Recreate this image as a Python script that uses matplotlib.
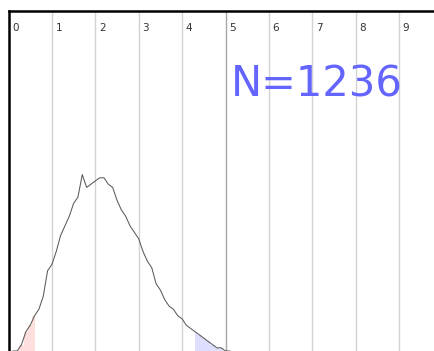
import numpy as np
import matplotlib
matplotlib.use("Agg")
import matplotlib.pyplot as plt

# binned counts, bin width 0.1
BIN_CENTERS = np.round(np.arange(0.1, 5.11, 0.1), 1)
COUNTS = [0, 0, 2, 6, 8, 11, 13, 17, 25, 27,
          31, 36, 39, 42, 46, 48, 55, 51, 52, 53,
          54, 54, 52, 51, 47, 44, 42, 39, 37, 35,
          31, 28, 26, 21, 19, 16, 14, 13, 11, 10,
          8, 7, 6, 5, 4, 3, 2, 1, 1, 0, 0]
N_TOTAL = 1236
LOW_CUT = 0.6    # lower tail shaded red
HIGH_CUT = 4.3   # upper tail shaded blue
TICKS = list(range(10))

x = np.array(BIN_CENTERS)
y = np.array(COUNTS, dtype=float)

fig = plt.figure(figsize=(4.34, 3.51), dpi=100)
ax = fig.add_axes([8.5 / 434, 0, 1.0, 1 - 11 / 351])

ax.set_xlim(0, 10.0)
ax.set_ylim(0, 106)

# vertical grid lines with labels tucked into the top of each column
for t in TICKS[1:]:
    col = "#a8a8a8" if t == 5 else "#d2d2d2"
    ax.axvline(t, color=col, linewidth=1.0, zorder=1)
for t in TICKS:
    ax.text(t + 0.08, 0.95, str(t), transform=ax.get_xaxis_transform(),
            fontsize=7.5, color="#333333", ha="left", va="center")

lo = x <= LOW_CUT
hi = x >= HIGH_CUT
ax.fill_between(x[lo], y[lo], step="mid", color="#ffdede", linewidth=0, zorder=2)
ax.fill_between(x[hi], y[hi], step="mid", color="#dedeff", linewidth=0, zorder=2)

ax.plot(x, y, color="#5a5a5a", linewidth=0.75, zorder=3)

ax.text(5.13, 0.785, f"N={N_TOTAL}", transform=ax.get_xaxis_transform(),
        fontsize=30, color="#6464ff", ha="left", va="center")

ax.set_xticks([])
ax.set_yticks([])
ax.spines["right"].set_visible(False)
ax.spines["bottom"].set_visible(False)
ax.spines["left"].set_linewidth(1.8)
ax.spines["top"].set_linewidth(1.8)

plt.savefig("out.png", dpi=100)
plt.close()
